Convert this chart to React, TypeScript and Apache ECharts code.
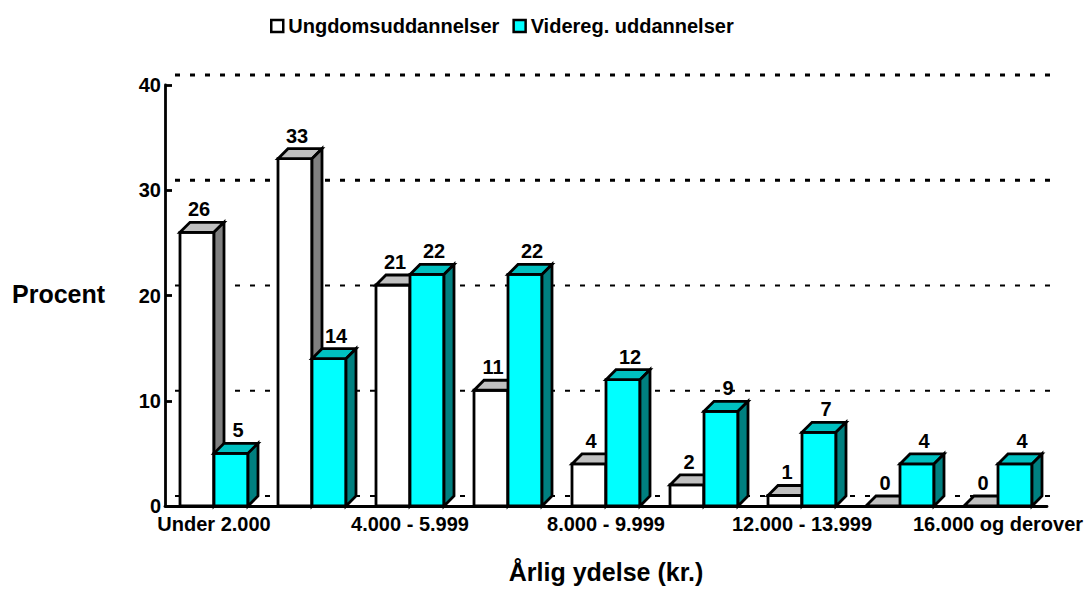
import React, { useEffect, useRef } from "react";
import * as echarts from "echarts";

const categories = [
  "Under 2.000",
  "2.000 - 3.999",
  "4.000 - 5.999",
  "6.000 - 7.999",
  "8.000 - 9.999",
  "10.000 - 11.999",
  "12.000 - 13.999",
  "14.000 - 15.999",
  "16.000 og derover",
];
const ungdom = [26, 33, 21, 11, 4, 2, 1, 0, 0];
const videreg = [5, 14, 22, 22, 12, 9, 7, 4, 4];
const yTicks = [0, 10, 20, 30, 40];
const seriesNames = ["Ungdomsuddannelser", "Videreg. uddannelser"];

const FONT = "'Liberation Sans', Arial, Helvetica, sans-serif";
const D = 10; // 3D depth
const BW = 34; // bar width
const LABEL_DX = [2, 7];

const palettes = [
  { front: "#ffffff", top: "#c0c0c0", side: "#808080" },
  { front: "#00ffff", top: "#00c0c0", side: "#008080" },
];

function makeBarRender(si: number) {
  return (params: any, api: any) => {
    const idx = api.value(0);
    const v = api.value(1);
    const top = api.coord([idx, v]);
    const base = api.coord([idx, 0]);
    const cx = top[0];
    const x0 = si === 0 ? cx - BW : cx;
    const x1 = x0 + BW;
    const yT = top[1];
    const yB = base[1];
    const p = palettes[si];
    const stroke = { stroke: "#000", lineWidth: 2.8, lineJoin: "miter" };
    return {
      type: "group",
      children: [
        {
          type: "polygon",
          shape: { points: [[x0, yT], [x1, yT], [x1, yB], [x0, yB]] },
          style: { fill: p.front, ...stroke },
        },
        {
          type: "polygon",
          shape: { points: [[x0, yT], [x0 + D, yT - D], [x1 + D, yT - D], [x1, yT]] },
          style: { fill: p.top, ...stroke },
        },
        {
          type: "polygon",
          shape: { points: [[x1, yT], [x1 + D, yT - D], [x1 + D, yB - D], [x1, yB]] },
          style: { fill: p.side, ...stroke },
        },
        {
          type: "text",
          style: {
            text: String(v),
            x: (x0 + x1) / 2 + LABEL_DX[si],
            y: yT - D - 3,
            textAlign: "center",
            textVerticalAlign: "bottom",
            fill: "#000",
            font: `bold 20px ${FONT}`,
          },
        },
      ],
    };
  };
}

export default function App() {
  const ref = useRef<HTMLDivElement>(null);
  useEffect(() => {
    if (!ref.current) return;
    const chart = echarts.init(ref.current, null, { renderer: "svg" });
    chart.setOption({
      animation: false,
      backgroundColor: "#ffffff",
      textStyle: { fontFamily: FONT },
      legend: {
        left: 265,
        top: 11,
        itemWidth: 12,
        itemHeight: 12,
        itemGap: 13,
        icon: "rect",
        textStyle: { fontFamily: FONT, fontWeight: "bold", fontSize: 20, color: "#000" },
        data: [
          { name: seriesNames[0], itemStyle: { color: "#ffffff", borderColor: "#000", borderWidth: 2.5 } },
          { name: seriesNames[1], itemStyle: { color: "#00ffff", borderColor: "#000", borderWidth: 2.5 } },
        ],
      },
      grid: { left: 165, top: 85, right: 45, bottom: 84, containLabel: false },
      xAxis: {
        type: "category",
        data: categories,
        boundaryGap: true,
        name: "Årlig ydelse (kr.)",
        nameLocation: "middle",
        nameGap: 53,
        nameTextStyle: { fontFamily: FONT, fontWeight: "bold", fontSize: 25, color: "#000" },
        axisLine: { show: true, lineStyle: { color: "#000", width: 2.8 } },
        axisTick: { show: false },
        axisLabel: {
          interval: 1,
          margin: 8,
          fontFamily: FONT,
          fontWeight: "bold",
          fontSize: 20,
          color: "#000",
        },
        splitLine: { show: false },
      },
      yAxis: {
        type: "value",
        min: 0,
        max: 40,
        interval: 10,
        axisLine: { show: true, lineStyle: { color: "#000", width: 2.8 } },
        axisTick: { show: true, inside: true, length: 7, lineStyle: { color: "#000", width: 2.8 } },
        axisLabel: {
          margin: 4,
          fontFamily: FONT,
          fontWeight: "bold",
          fontSize: 20,
          color: "#000",
        },
        splitLine: { show: false },
      },
      graphic: [
        {
          type: "text",
          left: 12,
          top: 281,
          style: {
            text: "Procent",
            fill: "#000",
            font: `bold 25px ${FONT}`,
          },
        },
      ],
      series: [
        {
          type: "custom",
          name: "grid",
          silent: true,
          z: 1,
          data: yTicks.map((t) => [0, t]),
          renderItem: (params: any, api: any) => {
            const t = api.value(1);
            const y = api.coord([0, t])[1] - D;
            const cs = params.coordSys;
            return {
              type: "line",
              shape: { x1: cs.x + D, y1: y, x2: cs.x + cs.width + D, y2: y },
              style: { stroke: "#000", lineWidth: t >= 30 ? 3 : 2, lineDash: [5, 10] },
            };
          },
        },
        {
          type: "custom",
          name: seriesNames[0],
          z: 2,
          itemStyle: { color: "#ffffff", borderColor: "#000", borderWidth: 2.5 },
          data: ungdom.map((v, i) => [i, v]),
          renderItem: makeBarRender(0),
        },
        {
          type: "custom",
          name: seriesNames[1],
          z: 2,
          itemStyle: { color: "#00ffff", borderColor: "#000", borderWidth: 2.5 },
          data: videreg.map((v, i) => [i, v]),
          renderItem: makeBarRender(1),
        },
      ],
    });
    return () => chart.dispose();
  }, []);
  return <div ref={ref} style={{ width: 1092, height: 590, position: "fixed", left: 0, top: 0 }} />;
}
